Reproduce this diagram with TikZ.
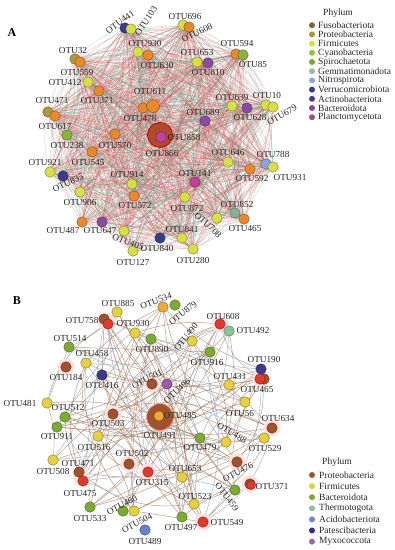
\documentclass[tikz,border=0pt]{standalone}
\usepackage{fontspec}
\setmainfont{Liberation Serif}
\pgfdeclarelayer{bg}
\pgfdeclarelayer{paper}
\pgfsetlayers{paper,bg,main}
\definecolor{cyel}{HTML}{D8DE4A}
\definecolor{corg}{HTML}{E8892E}
\definecolor{coli}{HTML}{B0983A}
\definecolor{cgrn}{HTML}{8CB43C}
\definecolor{cnav}{HTML}{3C3A8C}
\definecolor{cpur}{HTML}{8A4CA0}
\definecolor{cmag}{HTML}{C0409A}
\definecolor{clbl}{HTML}{8CA4E0}
\definecolor{cgg}{HTML}{88B098}
\definecolor{cbig}{HTML}{B04A2A}
\definecolor{cbrn}{HTML}{A0522D}
\definecolor{cred}{HTML}{E03A2A}
\definecolor{cbyel}{HTML}{E6D040}
\definecolor{cbgrn}{HTML}{7CAA35}
\definecolor{cthe}{HTML}{8CC49A}
\definecolor{cblu}{HTML}{6A80C8}
\definecolor{cbpur}{HTML}{9A5AA8}
\definecolor{cbor}{HTML}{F0A830}
% legend A
\definecolor{lA1}{HTML}{8C5E2C}
\definecolor{lA2}{HTML}{A8983C}
\definecolor{lA3}{HTML}{D6E04C}
\definecolor{lA4}{HTML}{96C040}
\definecolor{lA5}{HTML}{78A832}
\definecolor{lA6}{HTML}{9CB8A0}
\definecolor{lA7}{HTML}{90A8E0}
\definecolor{lA8}{HTML}{383A88}
\definecolor{lA9}{HTML}{4A3890}
\definecolor{lA10}{HTML}{8848A0}
\definecolor{lA11}{HTML}{985088}
% legend B
\definecolor{lB1}{HTML}{A0522D}
\definecolor{lB2}{HTML}{E0D040}
\definecolor{lB3}{HTML}{7CAA35}
\definecolor{lB4}{HTML}{8CC49A}
\definecolor{lB5}{HTML}{7088D0}
\definecolor{lB6}{HTML}{3A2E80}
\definecolor{lB7}{HTML}{9A6AA8}
% edge colours
\definecolor{ecol0}{HTML}{E85868}
\definecolor{ecol1}{HTML}{A06848}
\definecolor{ecol2}{HTML}{E04050}
\definecolor{ecol3}{HTML}{40B8A8}
\definecolor{ecol4}{HTML}{B08870}
\definecolor{bedge}{HTML}{A87A5C}
\definecolor{bedge2}{HTML}{A8B8C8}
\tikzset{
  dot/.style={circle, fill=#1, draw=#1!55!black, line width=0.4pt, minimum size=10.5pt, inner sep=0pt},
  lab/.style={font=\fontsize{9.2}{9.2}\selectfont, inner sep=0pt, text=black!85},
  ldot/.style={circle, fill=#1, draw=none, minimum size=6pt, inner sep=0pt},
  ltext/.style={font=\fontsize{9.5}{9.5}\selectfont, inner sep=0pt, anchor=west, text=black!85},
  aedge/.style={line width=0.3pt, opacity=0.45},
  bedgest/.style={line width=0.5pt, opacity=0.75, color=bedge},
  halo/.style={circle, fill=pink!50, draw=none, minimum size=17pt, inner sep=0pt},
}
\begin{document}
\begin{tikzpicture}[x=1pt,y=-1pt]
\useasboundingbox (0,0) rectangle (395,550);
\begin{pgfonlayer}{paper}
\fill[white] (0,0) rectangle (395,550);
\end{pgfonlayer}

% ---------------- Panel A ----------------
\node[font=\bfseries\fontsize{12}{12}\selectfont, inner sep=0pt] (tA) at (12,33) {A};
\foreach \n/\x/\y/\c in {
 1/125/28/cnav, 2/131/29/cyel, 3/183/25/cyel, 4/189/27/corg, 5/138/52/cyel, 6/148/55/corg,
 7/75/59/coli, 8/80/62/corg, 9/88/82/cyel, 10/99/91/corg, 11/153/106/corg, 12/143/108/corg,
 13/48/112/coli, 14/55/116/corg, 15/67/135/cgrn, 16/160/135/cbig, 17/115/134/corg, 18/92/152/corg,
 19/50/172/cyel, 20/63/176/cnav, 21/132/184/cyel, 22/134/196/corg, 23/80/192/cyel, 24/82/222/corg,
 25/102/222/cpur, 26/124/231/cyel, 27/133/251/cyel, 28/160/238/cnav, 29/182/238/cyel, 30/185/197/cyel,
 31/193/249/cyel, 32/228/162/cyel, 33/250/169/corg, 34/266/164/clbl, 35/273/167/cyel, 36/195/182/cmag,
 37/235/213/cgg, 38/244/219/corg, 39/217/218/cyel, 40/236/54/corg, 41/243/55/cgrn, 42/197/62/cyel,
 43/208/63/cpur, 44/232/106/cyel, 45/247/108/cpur, 46/266/105/cyel, 47/273/107/cyel, 48/205/121/cpur}
 {\node[dot=\c] (a\n) at (\x,\y) {};}
% hub sizes
\node[dot=corg, minimum size=13pt] (a11b) at (a11) {};
\node[circle, fill=cbig, draw=red!75!black, line width=0.8pt, minimum size=25pt, inner sep=0pt] (a16b) at (a16) {};
\node[dot=cmag, minimum size=11pt] (a16c) at (161,137) {};

\begin{pgfonlayer}{bg}
\foreach \i in {1,...,47}{
  \pgfmathtruncatemacro\js{\i+1}
  \foreach \j in {\js,...,48}{
    \pgfmathtruncatemacro\k{mod(\i*7+\j*3,5)}
    \pgfmathtruncatemacro\bb{mod(\i*5+\j,4)*8-12}
    \draw[aedge, color=ecol\k] (a\i) to[bend left=\bb] (a\j);
  }}
\end{pgfonlayer}

\foreach \t/\x/\y/\r [count=\k] in {
 OTU441/120/22/36, OTU103/146/21/56, OTU696/185/16/0, OTU608/197/33/24, OTU930/145/43/0,
 OTU630/157/65/0, OTU32/73/50/0, OTU559/77/72/0, OTU412/65/82/0, OTU371/97/100/0,
 OTU611/150/91/0, OTU478/140/118/0, OTU471/52/100/0, OTU617/55/126/0, OTU858/184/137/0,
 OTU866/162/153/0, OTU594/237/43/0, OTU85/253/64/0, OTU653/197/52/0, OTU810/208/72/0,
 OTU639/232/97/0, OTU628/250/117/0, OTU10/267/95/0, OTU679/282/115/30, OTU689/203/112/0,
 OTU238/67/145/0, OTU570/115/145/0, OTU545/88/162/0, OTU921/45/162/0, OTU835/68/183/25,
 OTU914/127/174/0, OTU572/135/205/0, OTU906/80/202/0, OTU487/63/230/0, OTU647/100/230/0,
 OTU405/128/242/-20, OTU127/133/262/0, OTU840/157/248/0, OTU841/182/229/0, OTU872/187/208/0,
 OTU280/193/260/0, OTU708/208/225/-42, OTU852/237/204/0, OTU465/245/228/0, OTU646/228/152/0,
 OTU592/252/178/0, OTU788/273/154/0, OTU931/290/177/0, OTU141/195/173/0}
 {\node[lab, rotate=\r] (la\k) at (\x,\y) {\t};}

% legend A
\node[lab, font=\fontsize{9.5}{9.5}\selectfont] (phA) at (338,13) {Phylum};
\foreach \t [count=\k] in {Fusobacteriota, Proteobacteria, Firmicutes, Cyanobacteria, Spirochaetota,
  Gemmatimonadota, Nitrospirota, Verrucomicrobiota, Actinobacteriota, Bacteroidota, Planctomycetota}
 {\node[ldot=lA\k] (lgA\k) at (312,16+\k*9.2) {};
  \node[ltext] (lgAt\k) at (318,16+\k*9.2) {\t};}

% ---------------- Panel B ----------------
\node[font=\bfseries\fontsize{12}{12}\selectfont, inner sep=0pt] (tB) at (17,301) {B};
% halos
\foreach \x/\y [count=\k] in {106/322, 66/367, 152/384, 113/414, 129/464, 148/472, 81/476,
  272/428, 237/462, 250/484, 203/522, 261/379, 220/324}
 {\node[halo] (h\k) at (\x,\y) {};}
\foreach \n/\x/\y/\c in {
 1/117/312/cbyel, 2/163/307/cbor, 3/175/305/cbgrn, 4/104/319/cbrn, 5/108/324/cred, 6/135/333/cbyel,
 7/151/339/cbgrn, 8/192/341/cbyel, 9/69/347/cbgrn, 10/86/363/cbyel, 11/66/367/cbrn, 12/102/375/cnav,
 13/152/384/cbrn, 14/167/384/cbpur, 15/220/324/cred, 16/229/331/cthe, 17/210/352/cbgrn, 18/261/369/cnav,
 19/229/385/cbyel, 20/264/379/cbrn, 21/47/403/cbyel, 22/65/417/cbgrn, 23/57/427/cbgrn, 24/113/414/cbrn,
 25/160/417/cbrn, 26/98/436/cbyel, 27/129/464/cbrn, 28/148/472/cred, 29/53/460/cbyel, 30/79/472/cbrn,
 31/83/481/cred, 32/90/507/cbgrn, 33/123/511/cbgrn, 34/134/511/cbyel, 35/145/530/cblu, 36/182/517/cbgrn,
 37/245/402/cbyel, 38/272/428/cbrn, 39/200/438/cbgrn, 40/226/442/cbyel, 41/264/438/cbyel, 42/237/462/cbrn,
 43/250/484/cbrn, 44/235/490/cbgrn, 45/182/477/cbyel, 46/194/504/cbyel, 47/203/522/cred}
 {\node[dot=\c] (b\n) at (\x,\y) {};}
\node[dot=cred] (b20r) at (260,379) {};
\node[dot=cred, minimum size=9pt] (b43r) at (251,485) {};
\node[circle, fill=cbrn, draw=pink!80!red, line width=0.8pt, minimum size=27pt, inner sep=0pt] (b25b) at (b25) {};
\node[dot=cbor, minimum size=10pt] (b25c) at (159,416) {};

\begin{pgfonlayer}{bg}
\foreach \i in {1,...,46}{
  \pgfmathtruncatemacro\js{\i+1}
  \foreach \j in {\js,...,47}{
    \pgfmathtruncatemacro\s{mod(\i*37+\j*53+\i*\j,8)}
    \pgfmathtruncatemacro\bb{mod(\i*3+\j*5,5)*11-22}
    \ifnum\s=0
      \draw[bedgest] (b\i) to[bend left=\bb] (b\j);
    \fi
    \ifnum\s=3
      \pgfmathtruncatemacro\q{mod(\i+\j,5)}
      \ifnum\q=0 \draw[line width=0.5pt, color=bedge2] (b\i) to[bend left=\bb] (b\j);\fi
      \ifnum\q=1 \draw[bedgest] (b\i) to[bend left=\bb] (b\j);\fi
    \fi
  }}
\end{pgfonlayer}

\foreach \t/\x/\y/\r [count=\k] in {
 OTU885/118/303/0, OTU534/156/301/20, OTU879/183/313/38, OTU758/82/320/0, OTU930/133/323/0,
 OTU890/152/349/0, OTU490/186/337/52, OTU514/70/338/0, OTU458/92/353/0, OTU184/66/377/0,
 OTU416/102/385/0, OTU501/147/379/27, OTU496/177/391/43, OTU608/223/316/0, OTU492/253/330/0,
 OTU916/207/362/0, OTU190/264/359/0, OTU431/230/376/0, OTU465/257/389/0, OTU481/20/403/0,
 OTU512/68/407/0, OTU911/57/436/0, OTU503/108/423/0, OTU485/180/415/0, OTU491/160/435/0,
 OTU516/94/447/0, OTU502/132/453/0, OTU315/152/482/0, OTU508/53/471/0, OTU471/78/463/0,
 OTU475/80/493/0, OTU533/90/518/0, OTU460/122/505/27, OTU504/137/523/27, OTU489/145/541/0,
 OTU497/181/527/0, OTU56/240/413/0, OTU634/278/418/0, OTU479/200/447/0, OTU488/232/433/-30,
 OTU529/265/448/0, OTU476/238/472/28, OTU371/272/486/0, OTU459/227/497/-52, OTU653/185/468/0,
 OTU523/195/496/0, OTU549/227/522/0}
 {\node[lab, rotate=\r] (lb\k) at (\x,\y) {\t};}

% legend B
\node[lab, font=\fontsize{9.5}{9.5}\selectfont] (phB) at (337,462) {Phylum};
\foreach \t [count=\k] in {Proteobacteria, Firmicutes, Bacteroidota, Thermotogota, Acidobacteriota,
  Patescibacteria, Myxococcota}
 {\node[ldot=lB\k] (lgB\k) at (312,463.9+\k*11.1) {};
  \node[ltext] (lgBt\k) at (319,463.9+\k*11.1) {\t};}
\end{tikzpicture}
\end{document}
